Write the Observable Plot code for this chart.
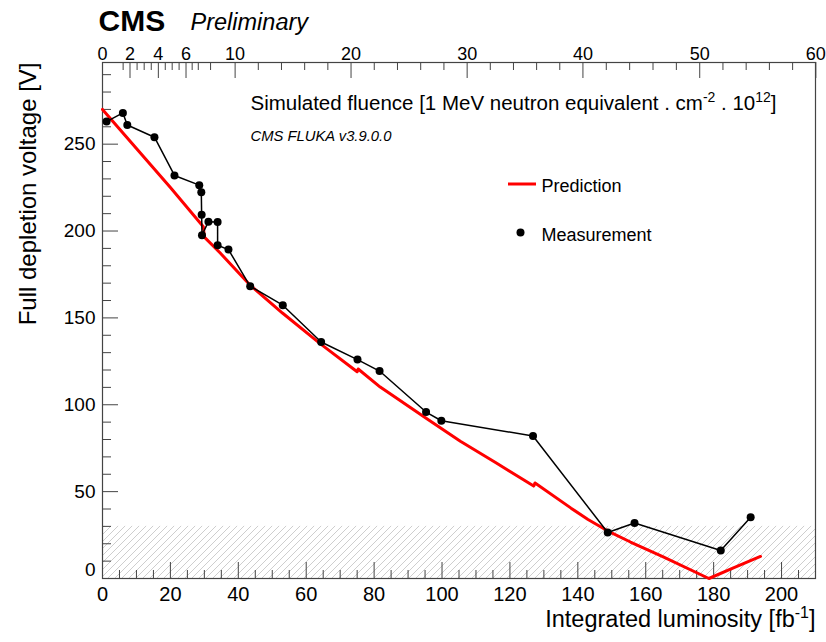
<!DOCTYPE html>
<html>
<head>
<meta charset="utf-8">
<script src="https://cdn.jsdelivr.net/npm/d3@7"></script>
<script src="https://cdn.jsdelivr.net/npm/@observablehq/plot@0.6"></script>
<style>
  html, body { margin: 0; padding: 0; background: #fff; }
  #chart { width: 826px; height: 642px; }
</style>
</head>
<body>
<div id="chart"></div>
<script>
// ---------- data ----------
const measLumi = [1.2, 6.0, 7.3, 15.3, 21.2, 28.5, 29.1, 29.2, 29.3, 31.2, 33.9, 33.9, 37.1, 43.5, 53.1, 64.4, 75.1, 81.6, 95.3, 99.8, 126.8, 148.8, 156.7, 182.1, 190.9];
const measVolt = [263.0, 268.0, 261.0, 254.0, 232.0, 226.4, 222.3, 209.3, 197.6, 205.4, 205.2, 191.8, 189.3, 168.2, 157.3, 136.1, 126.0, 119.4, 95.8, 90.8, 82.0, 26.5, 31.9, 16.1, 35.3];

const predLumi = [0, 10, 20, 29.7, 30.0, 34.6, 39.6, 43.5, 53, 64.1, 75.0, 75.3, 81.8, 95.1, 105.4, 116, 127.0, 127.4, 138, 143, 148.6, 155.5, 165, 178.6, 186, 193.8];
const predVolt = [270, 247.5, 225, 202.5, 196.5, 187.5, 177.0, 168.8, 152.8, 135.2, 119.0, 120.6, 110.2, 92.5, 79.0, 66.5, 53.2, 55.0, 40.5, 34.0, 27.6, 21.0, 12.6, 0, 6.3, 12.7];

const hatchBand = [0, 30];           // V range of the hatched band

const xDomain = [0, 210];
const yDomain = [0, 297];
const xTicks = [0, 20, 40, 60, 80, 100, 120, 140, 160, 180, 200];
const yTicks = [0, 50, 100, 150, 200, 250];

// top axis: simulated fluence tick labels and their luminosity positions
const fluenceTicks    = [0, 2, 4, 6, 10, 20, 30, 40, 50, 60];
const fluenceTickLumi = [0, 8.1, 16.45, 24.6, 39.06, 73.2, 107.4, 141.5, 175.9, 210.1];
const fluenceMinor = [1.5, 2.5, 3, 3.5, 4.5, 5, 5.5, 6.5, 7, 8,
  12, 14, 16, 18, 22, 24, 26, 28, 32, 34, 36, 38, 42, 44, 46, 48, 52, 54, 56, 58];

const prediction = predLumi.map((x, i) => ({x, y: predVolt[i]}));
const measurement = measLumi.map((x, i) => ({x, y: measVolt[i]}));

// ---------- layout ----------
const W = 826, H = 642, mL = 102, mR = 11, mT = 62, mB = 64;
const fw = W - mL - mR, fh = H - mT - mB;
const axisColor = "#444";
const font = "'Liberation Sans', Arial, Helvetica, sans-serif";

const fluenceToLumi = d3.scaleLinear().domain(fluenceTicks).range(fluenceTickLumi);
const xMinor = d3.range(5, 210, 5).filter(d => d % 20 !== 0);
const yMinor = d3.range(10, 297, 10).filter(d => d % 50 !== 0);
const HATCH = "#010203";

const chart = Plot.plot({
  width: W, height: H,
  marginLeft: mL, marginRight: mR, marginTop: mT, marginBottom: mB,
  style: {fontFamily: font, background: "#fff", color: "#000", overflow: "visible"},
  x: {domain: xDomain, axis: null},
  y: {domain: yDomain, axis: null},
  marks: [
    Plot.rect([hatchBand], {x1: () => xDomain[0], x2: () => xDomain[1], y1: d => d[0], y2: d => d[1], fill: HATCH}),
    // ticks
    Plot.tickX(xMinor, {x: d => d, insetTop: fh - 8, stroke: axisColor, strokeWidth: 1}),
    Plot.tickX(xTicks, {x: d => d, insetTop: fh - 16, stroke: axisColor, strokeWidth: 1}),
    Plot.tickX(fluenceMinor, {x: d => fluenceToLumi(d), insetBottom: fh - 8, stroke: axisColor, strokeWidth: 1}),
    Plot.tickX(fluenceTicks, {x: d => fluenceToLumi(d), insetBottom: fh - 16, stroke: axisColor, strokeWidth: 1}),
    Plot.tickY(yMinor, {y: d => d, insetRight: fw - 9, stroke: axisColor, strokeWidth: 1}),
    Plot.tickY(yTicks, {y: d => d, insetRight: fw - 16, stroke: axisColor, strokeWidth: 1}),
    Plot.frame({stroke: axisColor, strokeWidth: 1.2}),
    // tick labels
    Plot.text(xTicks, {x: d => d, text: d => String(d), frameAnchor: "bottom", lineAnchor: "bottom", dy: 22, fontSize: 20}),
    Plot.text(fluenceTicks, {x: d => fluenceToLumi(d), text: d => String(d), frameAnchor: "top", lineAnchor: "bottom", dy: -3, fontSize: 18}),
    Plot.text(yTicks.filter(d => d > 0), {y: d => d, text: d => String(d), frameAnchor: "left", textAnchor: "end", dx: -7, fontSize: 19}),
    Plot.text(yTicks.filter(d => d === 0), {y: d => d, text: d => String(d), frameAnchor: "left", textAnchor: "end", dx: -7, dy: -9, fontSize: 19}),
    // axis titles
    Plot.text(["Integrated luminosity [fb^{-1}]"], {text: d => d, frameAnchor: "bottom-right", textAnchor: "end", lineAnchor: "bottom", dy: 48, fontSize: 23.5}),
    Plot.text(["Full depletion voltage [V]"], {text: d => d, frameAnchor: "top-left", rotate: -90, textAnchor: "end", lineAnchor: "middle", dx: -74, dy: 0, fontSize: 24}),
    // header
    Plot.text(["CMS"], {text: d => d, frameAnchor: "top-left", textAnchor: "start", lineAnchor: "bottom", dx: -4, dy: -32, fontSize: 30, fontWeight: "bold"}),
    Plot.text(["Preliminary"], {text: d => d, frameAnchor: "top-left", textAnchor: "start", lineAnchor: "bottom", dx: 88, dy: -33, fontSize: 23.5, fontStyle: "italic"}),
    // annotations
    Plot.text(["Simulated fluence [1 MeV neutron equivalent . cm^{-2} . 10^{12}]"], {text: d => d, frameAnchor: "top-left", textAnchor: "start", lineAnchor: "bottom", dx: 148, dy: 47, fontSize: 20.5}),
    Plot.text(["CMS FLUKA v3.9.0.0"], {text: d => d, frameAnchor: "top-left", textAnchor: "start", lineAnchor: "bottom", dx: 148, dy: 78, fontSize: 14.8, fontStyle: "italic"}),
    // data
    Plot.line(prediction, {x: "x", y: "y", stroke: "#ff0000", strokeWidth: 3}),
    Plot.line(measurement, {x: "x", y: "y", stroke: "#000", strokeWidth: 1.5}),
    Plot.dot(measurement, {x: "x", y: "y", r: 4, fill: "#000"}),
    // legend
    Plot.text(["Prediction"], {text: d => d, frameAnchor: "top-left", textAnchor: "start", dx: 439, dy: 117, fontSize: 18}),
    Plot.text(["Measurement"], {text: d => d, frameAnchor: "top-left", textAnchor: "start", dx: 439, dy: 166, fontSize: 18}),
    Plot.dot([0], {frameAnchor: "top-left", dx: 418, dy: 170, r: 4, fill: "#000"})
  ]
});

// hatch pattern
const ns = "http://www.w3.org/2000/svg";
const svg = d3.select(chart);
const defs = svg.insert("defs", ":first-child");
const pat = defs.append("pattern").attr("id", "hatch").attr("patternUnits", "userSpaceOnUse")
  .attr("width", 7).attr("height", 7);
pat.append("path").attr("d", "M-1,1 l2,-2 M0,7 l7,-7 M6,8 l2,-2")
  .attr("stroke", "#c8c8c8").attr("stroke-width", 0.9).attr("fill", "none");
chart.querySelectorAll(`[fill="${HATCH}"]`).forEach(el => el.setAttribute("fill", "url(#hatch)"));

// legend line sample
svg.append("line").attr("x1", mL + 406).attr("x2", mL + 434).attr("y1", mT + 122).attr("y2", mT + 122)
  .attr("stroke", "#ff0000").attr("stroke-width", 3);

// superscripts
chart.querySelectorAll("text").forEach(t => {
  const s = t.textContent;
  if (!s.includes("^{")) return;
  const fs = parseFloat(t.getAttribute("font-size") || t.parentNode.getAttribute("font-size") || 20);
  const shift = Math.round(fs * 0.38);
  t.textContent = "";
  let pending = 0;
  s.split(/(\^\{[^}]*\})/).forEach(p => {
    if (!p) return;
    const ts = document.createElementNS(ns, "tspan");
    if (p.startsWith("^{")) {
      ts.textContent = p.slice(2, -1);
      ts.setAttribute("dy", -shift);
      ts.setAttribute("font-size", Math.round(fs * 0.68));
      pending = shift;
    } else {
      ts.textContent = p;
      if (pending) { ts.setAttribute("dy", pending); pending = 0; }
    }
    t.appendChild(ts);
  });
});

document.getElementById("chart").appendChild(chart);
</script>
</body>
</html>
